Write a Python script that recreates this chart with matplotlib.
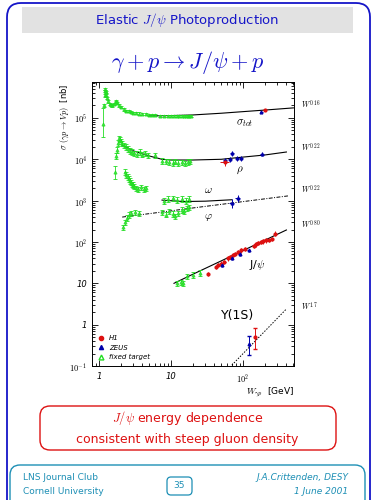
import matplotlib
matplotlib.use('Agg')
import matplotlib.pyplot as plt
import numpy as np
from matplotlib.patches import FancyBboxPatch
from matplotlib.transforms import IdentityTransform, blended_transform_factory
from matplotlib.lines import Line2D
from matplotlib.ticker import LogLocator, NullFormatter

plt.rcParams['mathtext.fontset'] = 'cm'

# ---------------- data ----------------
# total cross section, fixed target
tot_ft_w = [1.14, 1.18, 1.20, 1.21, 1.23, 1.25, 1.27, 1.30, 1.35, 1.40, 1.45, 1.50, 1.60, 1.70,
            1.75, 1.80, 1.90, 2.0, 2.2, 2.4, 2.6, 2.8, 3.0, 3.3, 3.6, 4.0, 4.5, 5.0, 5.5, 6.0,
            7.0, 8.0, 9.0, 10, 11, 12, 13, 14, 15, 16, 17, 18, 19]
tot_ft_s = [7.0e4, 2.0e5, 3.5e5, 4.5e5, 5.0e5, 4.3e5, 3.6e5, 3.0e5, 2.5e5, 2.2e5, 2.1e5, 2.0e5, 2.2e5, 2.4e5,
            2.6e5, 2.3e5, 2.0e5, 1.8e5, 1.6e5, 1.5e5, 1.45e5, 1.4e5, 1.35e5, 1.3e5, 1.28e5, 1.25e5, 1.22e5, 1.2e5, 1.18e5, 1.16e5,
            1.14e5, 1.13e5, 1.12e5, 1.12e5, 1.11e5, 1.12e5, 1.11e5, 1.12e5, 1.11e5, 1.12e5, 1.11e5, 1.12e5, 1.12e5]
tot_first_err = [3.5e4, 1.0e5]   # the big error bar on the lowest-W point
tot_fit_w = [5, 10, 20, 50, 100, 200, 500]
tot_fit_s = [1.12e5, 1.14e5, 1.18e5, 1.3e5, 1.42e5, 1.55e5, 1.75e5]
tot_zeus_w, tot_zeus_s = [180], [1.4e5]
tot_h1_w, tot_h1_s = [200], [1.55e5]

# rho
rho_ft_w = [1.67, 1.75, 1.8, 1.85, 1.9, 1.95, 2.0, 2.1, 2.2, 2.35, 2.5, 2.7, 2.9, 3.1, 3.4, 3.7, 4.0,
            4.4, 4.8, 6.0, 7.5, 8.5, 9.5, 10.5, 11.5, 12.5, 14, 15.5, 17, 18.5]
rho_ft_s = [5.0e3, 1.2e4, 1.7e4, 2.5e4, 3.2e4, 3.0e4, 2.7e4, 2.4e4, 2.2e4, 2.0e4, 1.8e4, 1.6e4, 1.5e4, 1.4e4, 1.35e4, 1.5e4, 1.3e4,
            1.4e4, 1.25e4, 1.25e4, 9.3e3, 9.0e3, 8.6e3, 8.3e3, 8.8e3, 8.2e3, 8.5e3, 8.0e3, 8.7e3, 8.9e3]
rho_fit_w = [2.1, 3, 5, 7.5, 10, 20, 50, 100, 200, 400]
rho_fit_s = [2.2e4, 1.6e4, 1.2e4, 1.0e4, 9.6e3, 9.6e3, 1.0e4, 1.13e4, 1.27e4, 1.5e4]
rho_zeus_w = [56, 66, 70, 83, 94, 183]
rho_zeus_s = [9.6e3, 1.0e4, 1.4e4, 1.05e4, 1.05e4, 1.35e4]
rho_h1_w, rho_h1_s = [56], [8.6e3]

# omega
om_ft_w = [2.3, 2.4, 2.5, 2.6, 2.7, 2.8, 2.9, 3.0, 3.1, 3.3, 3.5, 3.8, 4.2, 4.5,
           8, 9, 10.5, 12, 14, 16, 18]
om_ft_s = [5.0e3, 4.2e3, 3.8e3, 3.4e3, 3.0e3, 2.8e3, 2.5e3, 2.4e3, 2.2e3, 2.0e3, 1.9e3, 2.1e3, 1.9e3, 2.0e3,
           1.0e3, 1.1e3, 1.15e3, 1.05e3, 1.1e3, 1.0e3, 1.1e3]
om_fit_w = [7.5, 15, 30, 70]
om_fit_s = [1.03e3, 0.95e3, 0.97e3, 1.05e3]
om_zeus_w, om_zeus_s = [85], [1.15e3]

# phi
phi_ft_w = [2.15, 2.3, 2.45, 2.6, 2.8, 3.2, 3.6,
            7.5, 8.5, 9.5, 10.5, 11.5, 12.5, 14, 15, 16.5, 18]
phi_ft_s = [2.3e2, 3.0e2, 3.8e2, 4.5e2, 5.0e2, 5.3e2, 5.0e2,
            5.3e2, 4.6e2, 5.5e2, 4.8e2, 4.2e2, 5.0e2, 6.0e2, 5.5e2, 6.5e2, 7.0e2]
phi_fit_w = [2.1, 7.5, 19.5, 420]
phi_fit_s = [4.0e2, 5.3e2, 6.6e2, 1.3e3]
phi_zeus_w, phi_zeus_s = [70], [8.7e2]

# J/psi
psi_ft_w = [12.1, 13.8, 14.7, 16.7, 20.2, 25.3]
psi_ft_s = [10, 10.5, 10, 14.7, 16, 18]
psi_h1_w = [32.6, 42, 45, 50, 55, 62, 66, 72, 78, 85, 95, 105, 140, 150, 160, 175, 190, 210, 230, 250, 280]
psi_h1_s = [17, 25, 28, 30, 33, 40, 44, 49, 52, 58, 63, 68, 80, 88, 95, 100, 105, 110, 112, 118, 160]
psi_zeus_w = [51, 70, 90, 120]
psi_zeus_s = [28, 41, 52, 63]
psi_fit_w = [11, 20, 50, 100, 200, 400]
psi_fit_s = [10, 16.5, 35, 62, 110, 195]

# Upsilon
ups_fit_w = [70, 400]
ups_fit_s = [0.105, 2.4]
ups_zeus_w, ups_zeus_s, ups_zeus_lo, ups_zeus_hi = [121], [0.34], [0.16], [0.18]
ups_h1_w, ups_h1_s, ups_h1_lo, ups_h1_hi = [146], [0.5], [0.24], [0.33]

slope_labels = ['$W^{0.16}$', '$W^{0.22}$', '$W^{0.22}$', '$W^{0.80}$', '$W^{1.7}$']
slope_label_y = [2.06e5, 1.88e4, 1.8e3, 2.6e2, 2.7]

GREEN = '#22dd22'
RED = '#dd1111'
BLUE = '#0000aa'
SLIDE_BLUE = '#1515c8'
TEAL = '#1d8fb5'

fig = plt.figure(figsize=(3.75, 5), dpi=100)
pix = IdentityTransform()
H = 500


def box(x0, y0, x1, y1, **kw):
    # slide boxes in pixel coordinates, y measured from the top
    p = FancyBboxPatch((x0, H - y1), x1 - x0, y1 - y0, transform=pix, **kw)
    fig.add_artist(p)


box(7, 3, 370, 520, boxstyle='round,pad=0,rounding_size=14', fc='none', ec=SLIDE_BLUE, lw=1.3)
box(22, 7, 353, 33, boxstyle='square,pad=0', fc='#e2e2e2', ec='none')
fig.text(0.5, 1 - 20 / H, r'Elastic $J/\psi$ Photoproduction', ha='center', va='center',
         color=SLIDE_BLUE, fontsize=9.5)
fig.text(0.5, 1 - 62 / H, r'$\gamma + p \rightarrow J/\psi + p$', ha='center', va='center',
         color=SLIDE_BLUE, fontsize=16)

box(40, 406, 336, 450, boxstyle='round,pad=0,rounding_size=10', fc='none', ec=RED, lw=1.0)
fig.text(0.5, 1 - 418 / H, r'$J/\psi$ energy dependence', ha='center', va='center', color=RED, fontsize=9)
fig.text(0.5, 1 - 440 / H, 'consistent with steep gluon density', ha='center', va='center', color=RED, fontsize=9)

box(10, 465, 365, 530, boxstyle='round,pad=0,rounding_size=10', fc='none', ec=TEAL, lw=1.0)
box(167, 477, 192, 495, boxstyle='round,pad=0,rounding_size=4', fc='none', ec=TEAL, lw=0.9)
fig.text(179.5 / 375, 1 - 486 / H, '35', ha='center', va='center', color=TEAL, fontsize=6.5)
fig.text(23 / 375, 1 - 478 / H, 'LNS Journal Club', ha='left', va='center', color=TEAL, fontsize=6.5)
fig.text(23 / 375, 1 - 492 / H, 'Cornell University', ha='left', va='center', color=TEAL, fontsize=6.5)
fig.text(348 / 375, 1 - 478 / H, 'J.A.Crittenden, DESY', ha='right', va='center', color=TEAL,
         fontsize=6.5, style='italic')
fig.text(348 / 375, 1 - 492 / H, '1 June 2001', ha='right', va='center', color=TEAL,
         fontsize=6.5, style='italic')

# ---------------- the plot ----------------
ax = fig.add_axes([92 / 375, 1 - 366 / H, 202 / 375, 284 / H])
ax.set_xscale('log')
ax.set_yscale('log')
ax.set_xlim(0.8, 510)
ax.set_ylim(0.1, 7.4e5)


def ft(w, s, rel=0.1):
    s = np.array(s)
    ax.errorbar(w, s, yerr=rel * s, fmt='^', ms=2.2, mfc='none', mec=GREEN, ecolor=GREEN,
                elinewidth=0.6, capsize=1.2, capthick=0.6, mew=0.6, zorder=3)


ft(tot_ft_w[1:], tot_ft_s[1:], 0.06)
ax.errorbar(tot_ft_w[:1], tot_ft_s[:1], yerr=[[tot_first_err[0]], [tot_first_err[1]]], fmt='^',
            ms=2.2, mfc='none', mec=GREEN, ecolor=GREEN, elinewidth=0.6, capsize=1.2,
            capthick=0.6, mew=0.6, zorder=3)
ft(rho_ft_w[:1], rho_ft_s[:1], 0.35)
ft(rho_ft_w[1:], rho_ft_s[1:], 0.15)
ft(om_ft_w, om_ft_s, 0.15)
ft(phi_ft_w, phi_ft_s, 0.15)
ft(psi_ft_w, psi_ft_s, 0.15)

ax.plot(tot_fit_w, tot_fit_s, color='black', lw=0.8)
ax.plot(rho_fit_w, rho_fit_s, color='black', lw=0.8)
ax.plot(om_fit_w, om_fit_s, color='black', lw=0.8)
ax.plot(phi_fit_w, phi_fit_s, color='black', lw=0.7, ls=(0, (4, 1.5, 1, 1.5)))
ax.plot(psi_fit_w, psi_fit_s, color='black', lw=0.8)
ax.plot(ups_fit_w, ups_fit_s, color='black', lw=0.7, ls=(0, (1.5, 1.5)))


def hera(w, s, c, m, rel=0.12, xrel=0.04):
    s = np.array(s)
    w = np.array(w)
    ax.errorbar(w, s, yerr=rel * s, xerr=xrel * w, fmt=m, ms=2.0, color=c, elinewidth=0.7,
                capsize=0, zorder=4)


hera(tot_zeus_w, tot_zeus_s, BLUE, '^', 0.08)
hera(tot_h1_w, tot_h1_s, RED, 'o', 0.05, 0.05)
hera(rho_zeus_w, rho_zeus_s, BLUE, '^', 0.12, 0.06)
hera(rho_h1_w, rho_h1_s, RED, 'o', 0.2, 0.15)
hera(om_zeus_w, om_zeus_s, BLUE, '^', 0.2, 0.08)
hera(phi_zeus_w, phi_zeus_s, BLUE, '^', 0.25, 0.08)
hera(psi_h1_w, psi_h1_s, RED, 'o', 0.13, 0.04)
hera(psi_zeus_w, psi_zeus_s, BLUE, '^', 0.1, 0.05)
ax.errorbar(ups_zeus_w, ups_zeus_s, yerr=[ups_zeus_lo, ups_zeus_hi], fmt='^', ms=2.0, color=BLUE,
            elinewidth=0.7, capsize=1.5, zorder=4)
ax.errorbar(ups_h1_w, ups_h1_s, yerr=[ups_h1_lo, ups_h1_hi], fmt='o', ms=2.0, color=RED,
            elinewidth=0.7, capsize=1.5, zorder=4)

# curve labels
ax.text(107, 7.6e4, r'$\sigma_{tot}$', ha='center', va='center', fontsize=8)
ax.text(90, 5.5e3, r'$\rho$', ha='center', va='center', fontsize=8)
ax.text(33, 1.8e3, r'$\omega$', ha='center', va='center', fontsize=8)
ax.text(33, 4.0e2, r'$\varphi$', ha='center', va='center', fontsize=8)
ax.text(157, 27.5, r'J/$\psi$', ha='center', va='center', fontsize=8)
ax.text(85, 1.7, 'Υ(1S)', ha='center', va='center', fontsize=9)

tr = blended_transform_factory(ax.transAxes, ax.transData)
for lab, yv in zip(slope_labels, slope_label_y):
    ax.text(1.035, yv, lab, transform=tr, ha='left', va='center', fontsize=5.5)

ax.set_xticks([1, 10, 100], ['1', '10', '$10^{2}$'])
ax.set_yticks([0.1, 1, 10, 100, 1e3, 1e4, 1e5],
              ['$10^{-1}$', '1', '10', '$10^{2}$', '$10^{3}$', '$10^{4}$', '$10^{5}$'])
ax.xaxis.set_minor_locator(LogLocator(base=10, subs=np.arange(2, 10)))
ax.yaxis.set_minor_locator(LogLocator(base=10, subs=np.arange(2, 10)))
ax.xaxis.set_minor_formatter(NullFormatter())
ax.yaxis.set_minor_formatter(NullFormatter())
ax.tick_params(which='both', direction='in', top=True, right=True, width=0.6, labelsize=6)
ax.tick_params(which='major', length=4)
ax.tick_params(which='minor', length=2)
ax.tick_params(axis='x', pad=4)
for lab in ax.get_xticklabels() + ax.get_yticklabels():
    lab.set_style('italic')
for sp in ax.spines.values():
    sp.set_linewidth(0.7)

fig.text(65 / 375, 1 - 84 / H, r'$\sigma\ (\gamma p \rightarrow Vp)$  [nb]', rotation=90,
         ha='center', va='top', fontsize=6)
fig.text(294 / 375, 1 - 392 / H, r'$W_{\gamma p}$  [GeV]', ha='right', va='center', fontsize=6.5)

handles = [Line2D([], [], ls='none', marker='o', ms=3, color=RED),
           Line2D([], [], ls='none', marker='^', ms=3, color=BLUE),
           Line2D([], [], ls='none', marker='^', ms=3.5, mfc='none', mec=GREEN)]
leg = ax.legend(handles, ['H1', 'ZEUS', 'fixed target'], loc='lower left', frameon=False,
                handlelength=1, handletextpad=0.6, labelspacing=0.5,
                borderaxespad=0.4, prop={'style': 'italic', 'size': 5})

fig.savefig('out.png', dpi=100)
